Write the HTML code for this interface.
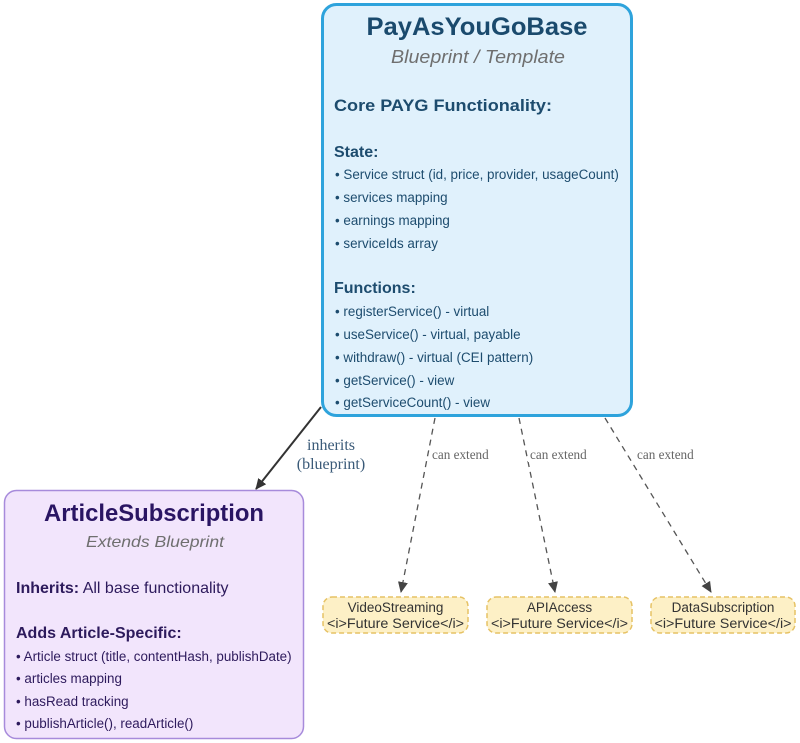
<!DOCTYPE html>
<html><head><meta charset="utf-8"><style>
html,body{margin:0;padding:0;background:#fff;}
svg{display:block;}
.s{font-family:"Liberation Sans",Arial,sans-serif;}
.r{font-family:"Liberation Serif",serif;}
</style></head><body>
<svg width="800" height="743" viewBox="0 0 800 743" xmlns="http://www.w3.org/2000/svg">
<defs>
<marker id="ah" markerWidth="12" markerHeight="12" refX="10" refY="5" orient="auto" markerUnits="userSpaceOnUse">
<path d="M0,0 L11,5 L0,10 z" fill="#333"/>
</marker>
<marker id="ah2" markerWidth="12" markerHeight="12" refX="10" refY="5" orient="auto" markerUnits="userSpaceOnUse">
<path d="M0,0 L11,5 L0,10 z" fill="#444"/>
</marker>
</defs>

<!-- Main box -->
<rect x="322.5" y="4.5" width="309" height="411" rx="14" fill="#e0f1fc" stroke="#2ea3dc" stroke-width="3"/>
<g class="s" fill="#1d4c6e">
<text x="477" y="35" text-anchor="middle" font-size="25" font-weight="bold" fill="#1a4a6d" textLength="221" lengthAdjust="spacingAndGlyphs">PayAsYouGoBase</text>
<text x="478" y="63" text-anchor="middle" font-size="18" font-style="italic" fill="#6f6f6f" textLength="174" lengthAdjust="spacingAndGlyphs">Blueprint / Template</text>
<text x="334" y="111" font-size="17" font-weight="bold" textLength="218" lengthAdjust="spacingAndGlyphs">Core PAYG Functionality:</text>
<text x="334" y="157" font-size="16" font-weight="bold">State:</text>
<g font-size="13.4">
<text x="335" y="179">• Service struct (id, price, provider, usageCount)</text>
<text x="335" y="202">• services mapping</text>
<text x="335" y="225">• earnings mapping</text>
<text x="335" y="248">• serviceIds array</text>
</g>
<text x="334" y="293" font-size="16" font-weight="bold">Functions:</text>
<g font-size="13.4">
<text x="335" y="316">• registerService() - virtual</text>
<text x="335" y="339">• useService() - virtual, payable</text>
<text x="335" y="362">• withdraw() - virtual (CEI pattern)</text>
<text x="335" y="385">• getService() - view</text>
<text x="335" y="407">• getServiceCount() - view</text>
</g>
</g>

<!-- Inherits arrow -->
<line x1="321" y1="407" x2="256" y2="489" stroke="#333" stroke-width="2" marker-end="url(#ah)"/>
<g class="r" font-size="16" fill="#3a5a78" text-anchor="middle">
<text x="331" y="450">inherits</text>
<text x="331" y="469">(blueprint)</text>
</g>

<!-- dashed arrows -->
<g stroke="#555" stroke-width="1.3" stroke-dasharray="6,5" fill="none">
<line x1="435" y1="418" x2="401" y2="592" marker-end="url(#ah2)"/>
<line x1="519" y1="418" x2="555" y2="592" marker-end="url(#ah2)"/>
<line x1="605" y1="418" x2="711" y2="592" marker-end="url(#ah2)"/>
</g>
<g class="r" font-size="13.2" fill="#666">
<rect x="430" y="446" width="62" height="16" fill="#fff"/>
<rect x="528" y="446" width="62" height="16" fill="#fff"/>
<rect x="635" y="446" width="62" height="16" fill="#fff"/>
<text x="432" y="459">can extend</text>
<text x="530" y="459">can extend</text>
<text x="637" y="459">can extend</text>
</g>

<!-- Article box -->
<rect x="4.5" y="490.5" width="299" height="248" rx="12" fill="#f2e5fc" stroke="#a78bdb" stroke-width="1.5"/>
<g class="s" fill="#2d1a5c">
<text x="154" y="521" text-anchor="middle" font-size="24" font-weight="bold" fill="#2a1563" textLength="220" lengthAdjust="spacingAndGlyphs">ArticleSubscription</text>
<text x="155" y="547" text-anchor="middle" font-size="16" font-style="italic" fill="#6f6f6f" textLength="138" lengthAdjust="spacingAndGlyphs">Extends Blueprint</text>
<text x="16" y="593" font-size="16"><tspan font-weight="bold">Inherits:</tspan> All base functionality</text>
<text x="16" y="638" font-size="16" font-weight="bold">Adds Article-Specific:</text>
<g font-size="13.4">
<text x="16" y="661">• Article struct (title, contentHash, publishDate)</text>
<text x="16" y="683">• articles mapping</text>
<text x="16" y="706">• hasRead tracking</text>
<text x="16" y="728">• publishArticle(), readArticle()</text>
</g>
</g>

<!-- Future services -->
<g fill="#fdf0c6" stroke="#e6c265" stroke-width="1.5" stroke-dasharray="5,3">
<rect x="323" y="597" width="145" height="36" rx="9"/>
<rect x="487" y="597" width="145" height="36" rx="9"/>
<rect x="651" y="597" width="144" height="36" rx="9"/>
</g>
<g class="s" font-size="13.5" fill="#333" text-anchor="middle">
<text x="395.5" y="612">VideoStreaming</text>
<text x="395.5" y="628" textLength="137" lengthAdjust="spacingAndGlyphs">&lt;i&gt;Future Service&lt;/i&gt;</text>
<text x="559.5" y="612">APIAccess</text>
<text x="559.5" y="628" textLength="137" lengthAdjust="spacingAndGlyphs">&lt;i&gt;Future Service&lt;/i&gt;</text>
<text x="723" y="612">DataSubscription</text>
<text x="723" y="628" textLength="137" lengthAdjust="spacingAndGlyphs">&lt;i&gt;Future Service&lt;/i&gt;</text>
</g>
</svg>
</body></html>
